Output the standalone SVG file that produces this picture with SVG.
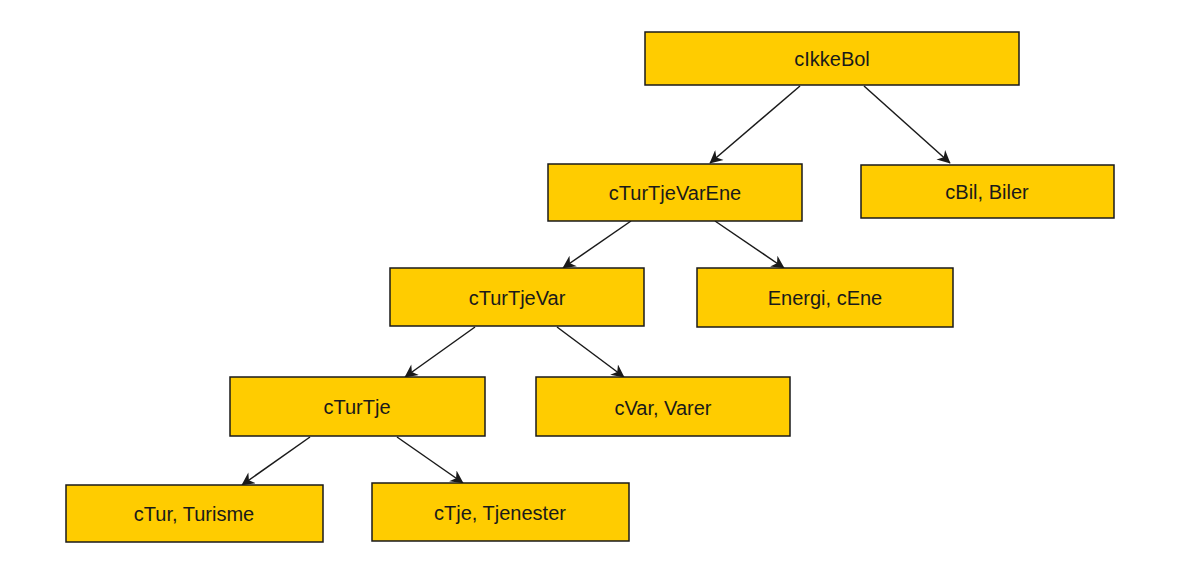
<svg xmlns="http://www.w3.org/2000/svg" width="1202" height="572" viewBox="0 0 1202 572">
<style>
.box{fill:#ffcc00;stroke:#1a1a1a;stroke-width:1.5}
.lbl{font-family:"Liberation Sans",Arial,sans-serif;font-size:20px;fill:#1a1a1a;text-anchor:middle;dominant-baseline:central}
.edge{stroke:#1a1a1a;stroke-width:1.5;fill:none;marker-end:url(#arr)}
</style>
<defs>
<marker id="arr" viewBox="0 0 10 10" refX="9.5" refY="5" markerWidth="15" markerHeight="13" markerUnits="userSpaceOnUse" orient="auto">
<path d="M0,0 L10,5 L0,10 L3,5 Z" fill="#1a1a1a"/>
</marker>
</defs>
<rect width="1202" height="572" fill="#ffffff"/>
<g id="connectors">
<line class="edge" x1="800" y1="86" x2="710" y2="163"/>
<line class="edge" x1="864" y1="86" x2="950" y2="163"/>
<line class="edge" x1="631" y1="221" x2="563" y2="268"/>
<line class="edge" x1="715" y1="221" x2="784" y2="268"/>
<line class="edge" x1="475" y1="327" x2="405" y2="377"/>
<line class="edge" x1="557" y1="327" x2="624" y2="377"/>
<line class="edge" x1="310" y1="437" x2="242" y2="485"/>
<line class="edge" x1="397" y1="437" x2="463" y2="483"/>
</g>
<g id="cIkkeBol"><rect class="box" x="645" y="32" width="374" height="53"/><text class="lbl" x="832" y="59">cIkkeBol</text></g>
<g id="cTurTjeVarEne"><rect class="box" x="548" y="164" width="254" height="57"/><text class="lbl" x="675" y="193">cTurTjeVarEne</text></g>
<g id="cBil"><rect class="box" x="861" y="165" width="253" height="53"/><text class="lbl" x="987" y="192">cBil, Biler</text></g>
<g id="cTurTjeVar"><rect class="box" x="390" y="268" width="254" height="58"/><text class="lbl" x="517" y="298">cTurTjeVar</text></g>
<g id="cEne"><rect class="box" x="697" y="268" width="256" height="59"/><text class="lbl" x="825" y="298">Energi, cEne</text></g>
<g id="cTurTje"><rect class="box" x="230" y="377" width="255" height="59"/><text class="lbl" x="357" y="407">cTurTje</text></g>
<g id="cVar"><rect class="box" x="536" y="377" width="254" height="59"/><text class="lbl" x="663" y="408">cVar, Varer</text></g>
<g id="cTur"><rect class="box" x="66" y="485" width="257" height="57"/><text class="lbl" x="194" y="514">cTur, Turisme</text></g>
<g id="cTje"><rect class="box" x="372" y="483" width="257" height="58"/><text class="lbl" x="500" y="513">cTje, Tjenester</text></g>
</svg>
